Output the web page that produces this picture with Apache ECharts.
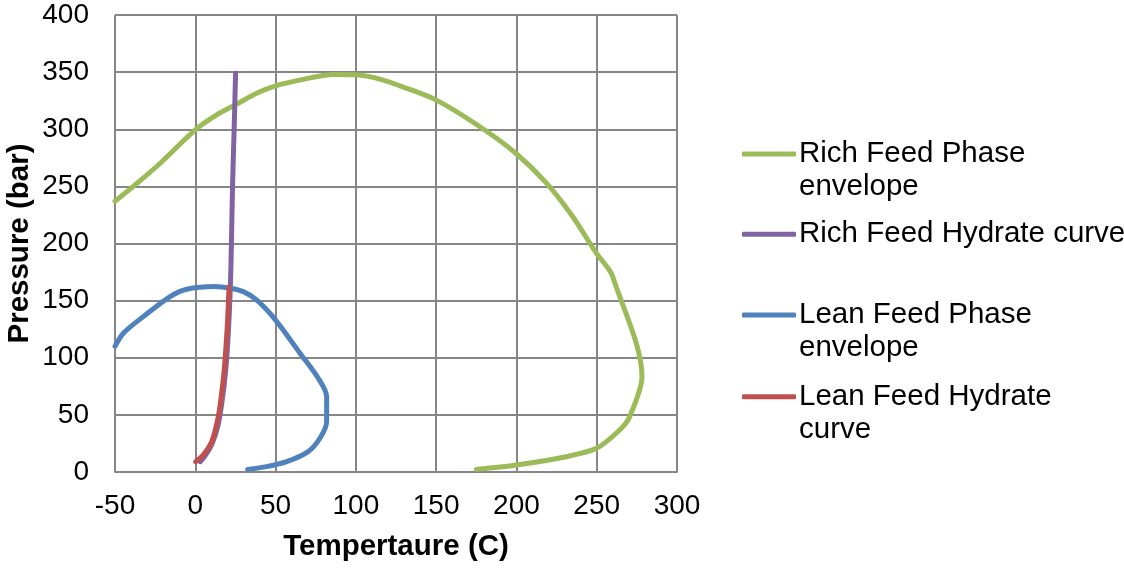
<!DOCTYPE html>
<html>
<head>
<meta charset="utf-8">
<script src="https://cdn.jsdelivr.net/npm/echarts@6/dist/echarts.min.js"></script>
<style>html,body{margin:0;padding:0;background:#fff}#c{width:1124px;height:568px}</style>
</head>
<body>
<div id="c"></div>
<script>
// Temperature (C), Pressure (bar)
const richPhaseT = [-50, -38.6, -22, 0, 13.3, 25.8, 38.2, 50, 65, 86, 100, 115, 127.4, 149.8, 177, 199.6, 218.7, 235, 249.8, 257, 260, 278.2, 270.5, 264.3, 249.8, 231, 200, 175];
const richPhaseP = [237, 250, 270, 299.5, 312.6, 322, 331.6, 338, 343, 348, 347.6, 343.9, 338, 325.7, 302.4, 279, 252.8, 223.6, 191.5, 178.4, 171, 83.5, 48.4, 36.8, 20.7, 13.4, 6.1, 2.3];

const richHydT = [3, 6.5, 10.5, 14, 16.5, 19, 20.5, 21.8, 22.5, 23.2, 24.2, 25.1];
const richHydP = [9, 15, 25, 40, 60, 90, 120, 160, 200, 250, 300, 349];

const leanPhaseT = [-50, -44.8, -32.4, -15.7, -5.4, 12.3, 21.6, 29.9, 38.2, 50, 65.2, 76.6, 81.8, 81.8, 77.6, 70.3, 56.9, 44.4, 32.6];
const leanPhaseP = [110, 121.5, 136, 153.5, 160, 162.3, 160.9, 157.9, 150.6, 133, 104, 82, 66, 44, 29.5, 17.8, 9, 4.7, 2.3];

const leanHydT = [0.2, 5, 10.2, 14.3, 16.5, 18, 19.9, 21];
const leanHydP = [9, 15, 26.5, 48.4, 70, 89, 127, 161.7];

const seriesNames = ['Rich Feed Phase envelope', 'Rich Feed Hydrate curve', 'Lean Feed Phase envelope', 'Lean Feed Hydrate curve'];
const legendLabels = ['Rich Feed Phase\nenvelope', 'Rich Feed Hydrate curve', 'Lean Feed Phase\nenvelope', 'Lean Feed Hydrate\ncurve'];
const seriesColors = ['#9BBB59', '#8064A2', '#4F81BD', '#C0504D'];
const xTicks = { min: -50, max: 300, interval: 50 };
const yTicks = { min: 0, max: 400, interval: 50 };

const zip = (a, b) => a.map((v, i) => [v, b[i]]);
const allData = [zip(richPhaseT, richPhaseP), zip(richHydT, richHydP), zip(leanPhaseT, leanPhaseP), zip(leanHydT, leanHydP)];

const FONT = 'Liberation Sans, Arial, sans-serif';
const gridColor = '#868686';
const LH = 33;
const iconY = [154, 234.3, 315, 396.7];

const legends = seriesNames.map((n, i) => {
  const twoLine = legendLabels[i].indexOf('\n') >= 0;
  return {
    left: 742,
    top: twoLine ? iconY[i] - LH * 1.5 : iconY[i] - LH / 2,
    padding: 0,
    orient: 'vertical',
    itemWidth: 54,
    itemHeight: 5,
    icon: 'roundRect',
    data: [{ name: n, icon: 'roundRect' }],
    formatter: () => (twoLine ? '\n' : '') + legendLabels[i],
    selectedMode: false,
    textStyle: { fontFamily: FONT, fontSize: 29.5, color: '#000', lineHeight: LH, padding: [0, 0, 0, -2] }
  };
});

const chart = echarts.init(document.getElementById('c'), null, { renderer: 'canvas' });
chart.setOption({
  animation: false,
  backgroundColor: '#fff',
  grid: { left: 115, right: 447, top: 15, bottom: 96, containLabel: false },
  legend: legends,
  xAxis: {
    type: 'value', min: xTicks.min, max: xTicks.max, interval: xTicks.interval,
    name: 'Tempertaure (C)', nameLocation: 'middle', nameGap: 60,
    nameTextStyle: { fontFamily: FONT, fontSize: 29.5, fontWeight: 'bold', color: '#000' },
    axisLine: { show: true, lineStyle: { color: gridColor, width: 2 } },
    axisTick: { show: false },
    axisLabel: { fontFamily: FONT, fontSize: 28, color: '#000', margin: 20 },
    splitLine: { show: true, lineStyle: { color: gridColor, width: 2 } }
  },
  yAxis: {
    type: 'value', min: yTicks.min, max: yTicks.max, interval: yTicks.interval,
    name: 'Pressure (bar)', nameLocation: 'middle', nameGap: 80, nameRotate: 90,
    nameTextStyle: { fontFamily: FONT, fontSize: 29.5, fontWeight: 'bold', color: '#000' },
    axisLine: { show: true, lineStyle: { color: gridColor, width: 2 } },
    axisTick: { show: false },
    axisLabel: { fontFamily: FONT, fontSize: 28, color: '#000', margin: 26 },
    splitLine: { show: true, lineStyle: { color: gridColor, width: 2 } }
  },
  series: seriesNames.map((n, i) => ({
    name: n, type: 'line', data: allData[i], smooth: 0.3,
    showSymbol: false, symbol: 'none', clip: true,
    color: seriesColors[i],
    itemStyle: { color: seriesColors[i] },
    lineStyle: { color: seriesColors[i], width: 5, cap: 'round', join: 'round' },
    z: 2 + i
  }))
});
</script>
</body>
</html>
